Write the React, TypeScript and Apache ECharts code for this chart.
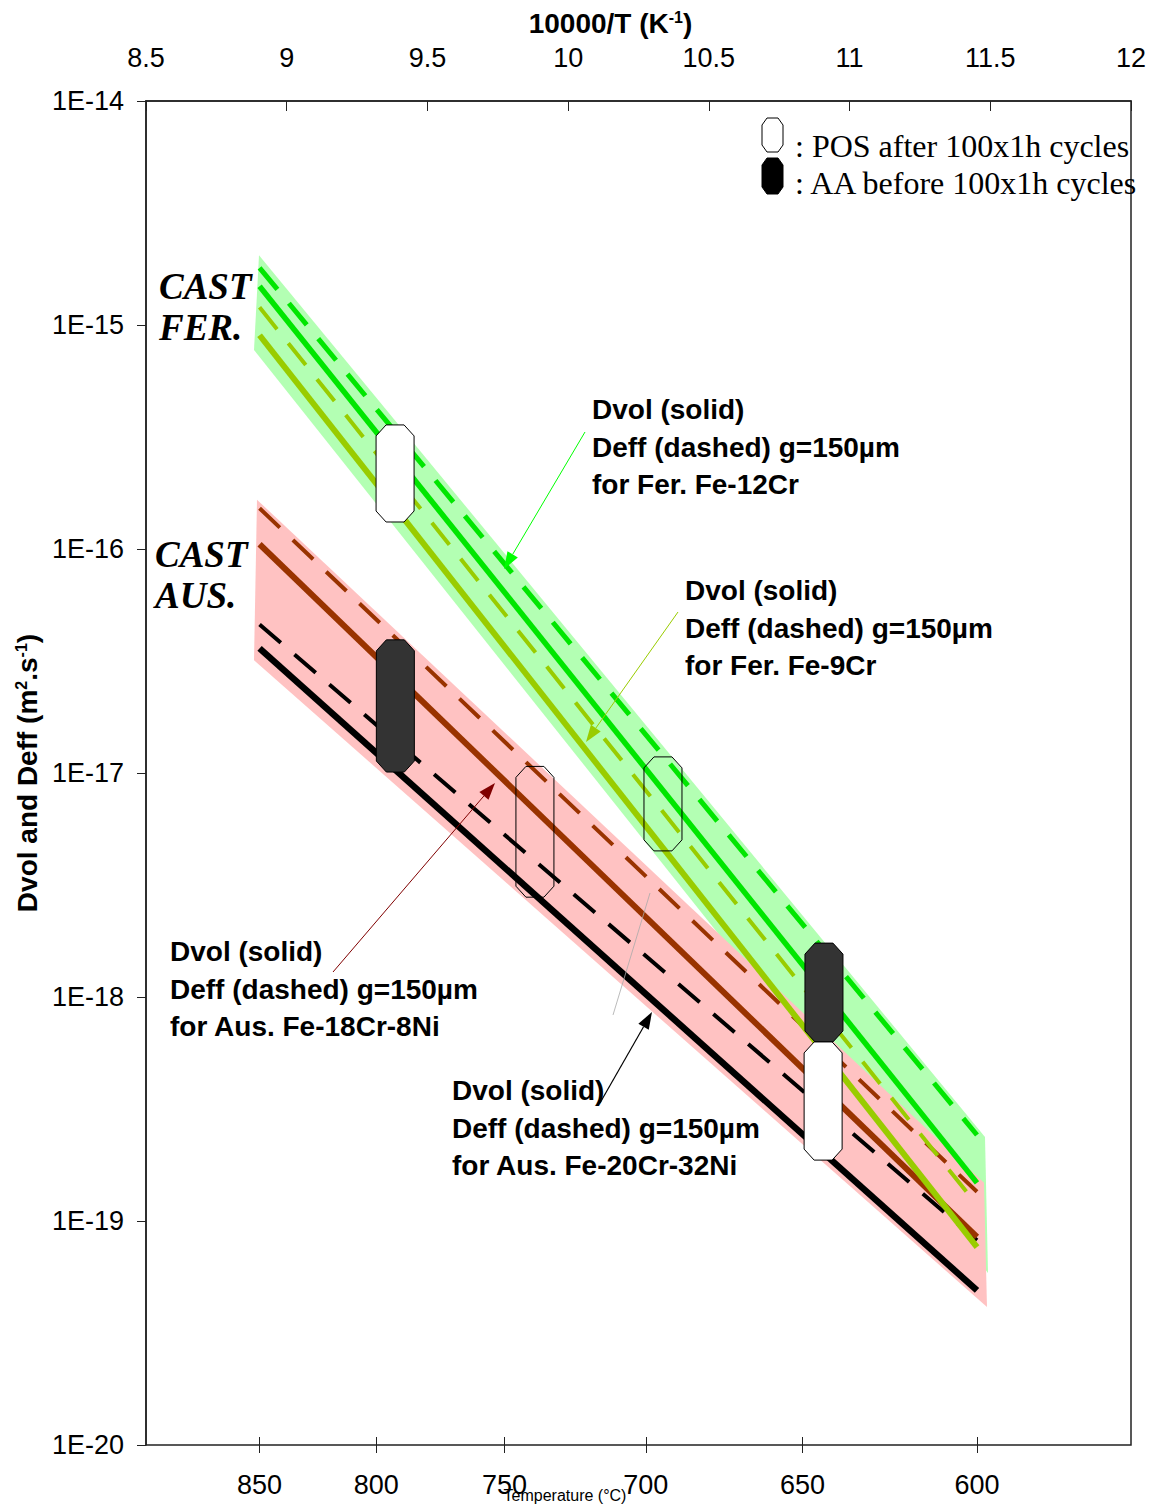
import React, { useEffect, useRef } from 'react';
import * as echarts from 'echarts';

const SANS = 'Arial, "Liberation Sans", Helvetica, sans-serif';
const SERIF = '"Times New Roman", "Liberation Serif", Times, serif';

// ---- axes ----
const INV_T_MIN = 8.5;
const INV_T_MAX = 12;
const INV_T_STEP = 0.5;
const D_MIN = 1e-20;
const D_MAX = 1e-14;
const TEMP_TICKS_C = [850, 800, 750, 700, 650, 600];
const toInvT = (c: number) => 10000 / (c + 273.15);

// ---- line end temperatures (°C) ----
const LINE_TEMPS_C = [850, 600];

// ---- diffusion coefficients (m^2/s) at 850 °C and 600 °C ----
const FE12CR_DVOL = [1.49e-15, 1.48e-19];
const FE12CR_DEFF = [1.8e-15, 2.42e-19];
const FE9CR_DVOL = [9.0e-16, 7.65e-20];
const FE9CR_DEFF = [1.2e-15, 1.18e-19];
const FE18CR8NI_DVOL = [1.05e-16, 8.5e-20];
const FE18CR8NI_DEFF = [1.52e-16, 1.35e-19];
const FE20CR32NI_DVOL = [3.6e-17, 4.9e-20];
const FE20CR32NI_DEFF = [4.6e-17, 8.2e-20];

// ---- shaded scatter bands (corners: x = 10000/T, y = D) ----
const FER_BAND_X = [8.9015, 11.4812, 11.4919, 8.8838];
const FER_BAND_D = [2.05e-15, 2.37e-19, 5.86e-20, 7.73e-16];
const AUS_BAND_X = [8.8944, 11.4776, 11.4883, 8.8838];
const AUS_BAND_D = [1.66e-16, 1.48e-19, 4.13e-20, 3.19e-17];

// ---- measured ranges (octagon markers) ----
const MARKER_X = [9.385, 9.386, 9.882, 10.337, 10.909, 10.906];
const MARKER_TOP = [3.58e-16, 3.93e-17, 1.07e-17, 1.18e-17, 1.74e-18, 6.3e-19];
const MARKER_BOTTOM = [1.32e-16, 1.01e-17, 2.79e-18, 4.49e-18, 6.3e-19, 1.87e-19];
const MARKER_KIND = ['POS', 'AA', 'open', 'open', 'AA', 'POS'];

const GREEN = '#00e600';
const OLIVE = '#99cc00';
const BROWN = '#993300';
const BLACK = '#000000';
const GREEN_BAND = '#b3ffb3';
const PINK_BAND = '#ffc2c2';
const DARK = '#333333';

function octagon(cx: number, yt: number, yb: number, hw: number, c: number, cy: number) {
  return [
    [cx - hw + c, yt],
    [cx + hw - c, yt],
    [cx + hw, yt + cy],
    [cx + hw, yb - cy],
    [cx + hw - c, yb],
    [cx - hw + c, yb],
    [cx - hw, yb - cy],
    [cx - hw, yt + cy],
  ];
}

function arrow(x1: number, y1: number, x2: number, y2: number, color: string, w: number) {
  const dx = x2 - x1;
  const dy = y2 - y1;
  const len = Math.hypot(dx, dy);
  const ux = dx / len;
  const uy = dy / len;
  const L = 17;
  const H = 6;
  const bx = x2 - ux * L;
  const by = y2 - uy * L;
  return [
    { type: 'line', z: 50, shape: { x1, y1, x2: bx, y2: by }, style: { stroke: color, lineWidth: w } },
    {
      type: 'polygon',
      z: 50,
      shape: { points: [[x2, y2], [bx - uy * H, by + ux * H], [bx + uy * H, by - ux * H]] },
      style: { fill: color },
    },
  ];
}

function note(x: number, y: number, text: string) {
  return {
    type: 'text',
    z: 50,
    x,
    y,
    style: {
      text,
      fontSize: 28,
      fontWeight: 'bold',
      fontFamily: SANS,
      fill: '#000',
      lineHeight: 37.5,
      verticalAlign: 'top',
      align: 'left',
    },
  };
}

function castLabel(x: number, y: number, text: string) {
  return {
    type: 'text',
    z: 50,
    x,
    y,
    style: {
      text,
      fontSize: 37,
      fontWeight: 'bold',
      fontStyle: 'italic',
      fontFamily: SERIF,
      fill: '#000',
      lineHeight: 41,
      verticalAlign: 'top',
      align: 'left',
    },
  };
}

function legendText(y: number, text: string) {
  return {
    type: 'text',
    z: 50,
    x: 795,
    y,
    style: {
      text,
      fontSize: 32,
      fontFamily: SERIF,
      fill: '#000',
      verticalAlign: 'middle',
      align: 'left',
    },
  };
}

function lineSeries(values: number[], color: string, width: number, dashed: boolean, z: number) {
  return {
    type: 'line',
    xAxisIndex: 0,
    yAxisIndex: 0,
    data: LINE_TEMPS_C.map((t, i) => [toInvT(t), values[i]]),
    symbol: 'none',
    silent: true,
    z,
    lineStyle: { color, width, type: dashed ? [28, 18] : 'solid', cap: 'butt' },
  };
}

export default function App() {
  const ref = useRef<HTMLDivElement>(null);

  useEffect(() => {
    if (!ref.current) return;
    const chart = echarts.init(ref.current, null, { renderer: 'svg' });

    const axisLineStyle = { color: '#222', width: 1.5 };
    const titleRich = {
      t: { fontSize: 28, fontWeight: 'bold', fontFamily: SANS, color: '#000' },
      s: { fontSize: 16, fontWeight: 'bold', fontFamily: SANS, color: '#000', verticalAlign: 'top' },
    };

    const option: any = {
      animation: false,
      backgroundColor: '#fff',
      grid: {
        left: 146,
        right: 26,
        top: 101,
        bottom: 59,
        show: true,
        borderColor: '#222',
        borderWidth: 1.5,
        backgroundColor: 'transparent',
      },
      xAxis: [
        {
          type: 'value',
          position: 'top',
          min: INV_T_MIN,
          max: INV_T_MAX,
          interval: INV_T_STEP,
          axisLine: { show: true, lineStyle: axisLineStyle },
          axisTick: { show: true, inside: true, length: 10, lineStyle: { color: '#222', width: 1 } },
          axisLabel: { fontSize: 27, fontFamily: SANS, color: '#000', margin: 30 },
          splitLine: { show: false },
          name: '{t|10000/T (K}{s|-1}{t|)}',
          nameLocation: 'middle',
          nameGap: 64,
          nameTextStyle: { rich: titleRich, padding: [0, 56, 0, 0] },
        },
        {
          type: 'value',
          position: 'bottom',
          offset: -8,
          min: INV_T_MIN,
          max: INV_T_MAX,
          axisLine: { show: false },
          axisTick: {
            show: true,
            inside: false,
            length: 16,
            customValues: TEMP_TICKS_C.map(toInvT),
            lineStyle: { color: '#222', width: 1 },
          },
          axisLabel: {
            customValues: TEMP_TICKS_C.map(toInvT),
            formatter: (v: number) => String(Math.round(10000 / v - 273.15)),
            fontSize: 27,
            fontFamily: SANS,
            color: '#000',
            margin: 34,
          },
          splitLine: { show: false },
        },
      ],
      yAxis: [
        {
          type: 'log',
          logBase: 10,
          min: D_MIN,
          max: D_MAX,
          axisLine: { show: true, lineStyle: axisLineStyle },
          axisTick: { show: true, inside: false, length: 9, lineStyle: { color: '#222', width: 1 } },
          axisLabel: {
            fontSize: 27,
            fontFamily: SANS,
            color: '#000',
            margin: 22,
            formatter: (v: number) => '1E' + Math.round(Math.log10(v)),
          },
          minorTick: { show: false },
          splitLine: { show: false },
          name: '{t|Dvol and Deff (m}{s|2}{t|.s}{s|-1}{t|)}',
          nameLocation: 'middle',
          nameGap: 100,
          nameRotate: 90,
          nameTextStyle: { rich: titleRich },
        },
      ],
      series: [
        {
          type: 'custom',
          xAxisIndex: 0,
          yAxisIndex: 0,
          z: 1,
          silent: true,
          data: [
            FER_BAND_X.flatMap((x, i) => [x, FER_BAND_D[i]]),
            AUS_BAND_X.flatMap((x, i) => [x, AUS_BAND_D[i]]),
          ],
          encode: { x: [0, 2, 4, 6], y: [1, 3, 5, 7] },
          renderItem: (params: any, api: any) => {
            const pts = [0, 1, 2, 3].map((k) => api.coord([api.value(2 * k), api.value(2 * k + 1)]));
            return {
              type: 'polygon',
              shape: { points: pts },
              style: { fill: params.dataIndex === 0 ? GREEN_BAND : PINK_BAND },
            };
          },
        },
        lineSeries(FE20CR32NI_DVOL, BLACK, 6.5, false, 3),
        lineSeries(FE20CR32NI_DEFF, BLACK, 4, true, 3),
        lineSeries(FE18CR8NI_DVOL, BROWN, 6, false, 4),
        lineSeries(FE18CR8NI_DEFF, BROWN, 4, true, 4),
        lineSeries(FE12CR_DVOL, GREEN, 5.5, false, 5),
        lineSeries(FE12CR_DEFF, GREEN, 5, true, 5),
        lineSeries(FE9CR_DEFF, OLIVE, 4, true, 6),
        lineSeries(FE9CR_DVOL, OLIVE, 6, false, 6),
        {
          type: 'custom',
          xAxisIndex: 0,
          yAxisIndex: 0,
          z: 10,
          silent: true,
          data: MARKER_X.map((x, i) => [x, MARKER_TOP[i], MARKER_BOTTOM[i]]),
          encode: { x: 0, y: [1, 2] },
          renderItem: (params: any, api: any) => {
            const top = api.coord([api.value(0), api.value(1)]);
            const bot = api.coord([api.value(0), api.value(2)]);
            const kind = MARKER_KIND[params.dataIndex];
            const fill = kind === 'AA' ? DARK : kind === 'POS' ? '#ffffff' : 'none';
            return {
              type: 'polygon',
              shape: { points: octagon(top[0], top[1], bot[1], 19, 10, 11) },
              style: { fill, stroke: '#000', lineWidth: 1 },
            };
          },
        },
      ],
      graphic: [
        // legend
        {
          type: 'polygon',
          z: 50,
          shape: { points: octagon(772.5, 118, 152, 10.5, 5, 7) },
          style: { fill: '#fff', stroke: '#000', lineWidth: 1 },
        },
        {
          type: 'polygon',
          z: 50,
          shape: { points: octagon(772.5, 158, 194, 10.5, 5, 7) },
          style: { fill: '#000', stroke: '#000', lineWidth: 1 },
        },
        legendText(146, ': POS after 100x1h cycles'),
        legendText(183, ': AA before 100x1h cycles'),
        castLabel(159, 266, 'CAST\nFER.'),
        castLabel(155, 534, 'CAST\nAUS.'),
        note(592, 391, 'Dvol (solid)\nDeff (dashed) g=150µm\nfor Fer. Fe-12Cr'),
        note(685, 572, 'Dvol (solid)\nDeff (dashed) g=150µm\nfor Fer. Fe-9Cr'),
        note(170, 933, 'Dvol (solid)\nDeff (dashed) g=150µm\nfor Aus. Fe-18Cr-8Ni'),
        note(452, 1072, 'Dvol (solid)\nDeff (dashed) g=150µm\nfor Aus. Fe-20Cr-32Ni'),
        ...arrow(585, 432, 504, 569, '#00ff00', 1),
        ...arrow(678, 612, 586, 742, OLIVE, 1),
        ...arrow(333, 972, 495, 783, '#800000', 1),
        ...arrow(600, 1103, 652, 1012, '#000', 1.2),
        {
          type: 'line',
          z: 50,
          shape: { x1: 613, y1: 1015, x2: 650, y2: 893 },
          style: { stroke: '#aaa', lineWidth: 0.8 },
        },
        {
          type: 'text',
          z: 50,
          x: 565,
          y: 1495,
          style: {
            text: 'Temperature (°C)',
            fontSize: 16,
            fontFamily: SANS,
            fill: '#000',
            align: 'center',
            verticalAlign: 'middle',
          },
        },
      ],
    };

    chart.setOption(option);
    return () => chart.dispose();
  }, []);

  return (
    <div
      ref={ref}
      style={{ position: 'absolute', left: 0, top: 0, width: 1157, height: 1504, background: '#fff' }}
    />
  );
}
